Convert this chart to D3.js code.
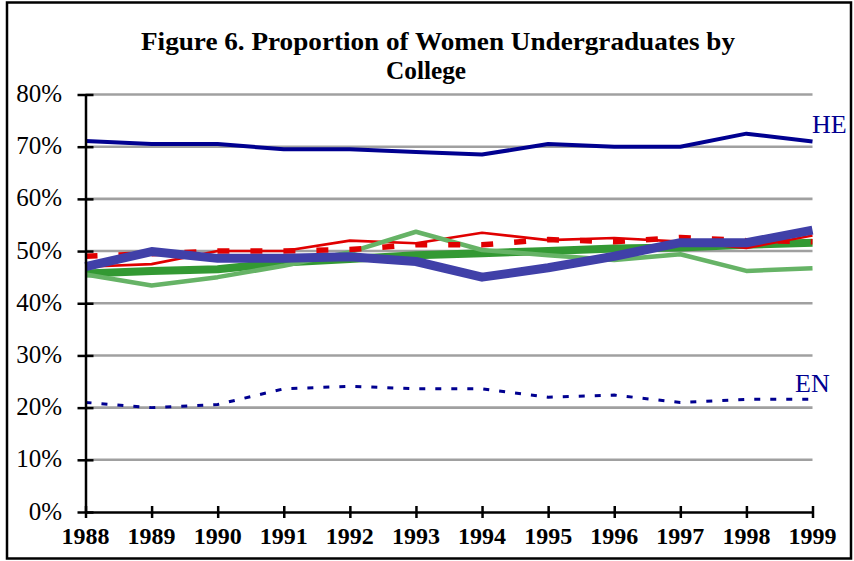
<!DOCTYPE html>
<html>
<head>
<meta charset="utf-8">
<script src="https://cdn.jsdelivr.net/npm/d3@7"></script>
<style>
  html, body { margin: 0; padding: 0; background: #fff; }
  svg { display: block; }
</style>
</head>
<body>
<div id="chart"></div>
<script>
const years = [1988, 1989, 1990, 1991, 1992, 1993, 1994, 1995, 1996, 1997, 1998, 1999];
const yTicks = [0, 0.1, 0.2, 0.3, 0.4, 0.5, 0.6, 0.7, 0.8];

const heValues       = [0.711, 0.705, 0.705, 0.695, 0.695, 0.690, 0.685, 0.705, 0.700, 0.700, 0.725, 0.710];
const enValues       = [0.210, 0.200, 0.206, 0.236, 0.241, 0.236, 0.236, 0.220, 0.224, 0.210, 0.216, 0.216];
const redThinValues  = [0.470, 0.475, 0.500, 0.500, 0.520, 0.515, 0.535, 0.521, 0.525, 0.518, 0.506, 0.530];
const redDashValues  = [0.490, 0.495, 0.500, 0.500, 0.503, 0.512, 0.512, 0.522, 0.518, 0.526, 0.520, 0.518];
const darkGreenValues  = [0.457, 0.462, 0.465, 0.478, 0.485, 0.492, 0.496, 0.500, 0.505, 0.507, 0.512, 0.516];
const lightGreenValues = [0.455, 0.434, 0.450, 0.472, 0.498, 0.537, 0.502, 0.492, 0.483, 0.494, 0.462, 0.467];
const bluePurpleValues = [0.470, 0.499, 0.486, 0.486, 0.489, 0.480, 0.450, 0.468, 0.490, 0.516, 0.516, 0.540];

const W = 854, H = 561;
const svg = d3.select("#chart").append("svg").attr("width", W).attr("height", H);

// outer frame
svg.append("rect").attr("x", 7).attr("y", 2.5).attr("width", 844).attr("height", 556)
  .attr("fill", "none").attr("stroke", "#000").attr("stroke-width", 2.5);

const x = d3.scaleLinear().domain([1988, 1999]).range([85.5, 812.5]);
const y = d3.scaleLinear().domain([0, 0.8]).range([512, 94.5]);

// title
const title = svg.append("g").attr("font-family", "'Liberation Serif', serif")
  .attr("font-weight", "bold").attr("font-size", 25).attr("fill", "#000");
title.append("text").attr("x", 438).attr("y", 50).attr("text-anchor", "middle")
  .attr("textLength", 594).attr("lengthAdjust", "spacingAndGlyphs")
  .text("Figure 6. Proportion of Women Undergraduates by");
title.append("text").attr("x", 426).attr("y", 79).attr("text-anchor", "middle")
  .attr("textLength", 80).attr("lengthAdjust", "spacingAndGlyphs")
  .text("College");

// gridlines
svg.append("g").selectAll("line").data(yTicks.filter(d => d > 0)).join("line")
  .attr("x1", x(1988)).attr("x2", x(1999))
  .attr("y1", d => y(d)).attr("y2", d => y(d))
  .attr("stroke", "#a0a0a0").attr("stroke-width", 2.6);

// series lines
const line = d3.line().x((d, i) => x(years[i])).y(d => y(d));
const series = [
  { name: "darkGreen", values: darkGreenValues, color: "#339933", width: 8, dash: null },
  { name: "redThin", values: redThinValues, color: "#e00000", width: 2.6, dash: null },
  { name: "lightGreen", values: lightGreenValues, color: "#66b366", width: 4.5, dash: null },
  { name: "redDash", values: redDashValues, color: "#e00000", width: 5.5, dash: "12,21" },
  { name: "HE", values: heValues, color: "#000090", width: 4, dash: null },
  { name: "EN", values: enValues, color: "#000090", width: 3, dash: "6,10" },
  { name: "bluePurple", values: bluePurpleValues, color: "#4040a8", width: 9, dash: null }
];
svg.append("g").selectAll("path").data(series).join("path")
  .attr("d", d => line(d.values))
  .attr("fill", "none")
  .attr("stroke", d => d.color)
  .attr("stroke-width", d => d.width)
  .attr("stroke-dasharray", d => d.dash)
  .attr("stroke-linejoin", "round");

// axes
const yAxis = d3.axisLeft(y).tickValues(yTicks).tickSize(0).tickFormat(d3.format(".0%"));
const gy = svg.append("g").attr("transform", `translate(${x(1988)},0)`).call(yAxis);
gy.select(".domain").attr("stroke", "#000").attr("stroke-width", 2.5);
gy.selectAll(".tick text").remove();
gy.selectAll(".tick").append("line").attr("x1", -8).attr("x2", 8)
  .attr("stroke", "#000").attr("stroke-width", 2.5);
svg.append("g").selectAll("text").data(yTicks).join("text")
  .attr("x", 62).attr("y", d => y(d) + 7.5)
  .attr("text-anchor", "end")
  .attr("font-family", "'Liberation Serif', serif").attr("font-size", 25)
  .attr("fill", "#000")
  .text(d => d3.format(".0%")(d));

const xAxis = d3.axisBottom(x).tickValues(years).tickSize(0).tickFormat(d3.format("d"));
const gx = svg.append("g").attr("transform", `translate(0,${y(0)})`).call(xAxis);
gx.select(".domain").attr("stroke", "#000").attr("stroke-width", 2.5);
gx.selectAll(".tick text").remove();
gx.selectAll(".tick").append("line").attr("y1", -6).attr("y2", 6)
  .attr("stroke", "#000").attr("stroke-width", 2.5);
svg.append("g").selectAll("text").data(years).join("text")
  .attr("x", d => x(d)).attr("y", 544)
  .attr("text-anchor", "middle")
  .attr("font-family", "'Liberation Serif', serif").attr("font-weight", "bold").attr("font-size", 24)
  .attr("fill", "#000")
  .text(d => d);

// series labels
svg.append("text").attr("x", 812).attr("y", 133)
  .attr("font-family", "'Liberation Serif', serif").attr("font-size", 26)
  .attr("fill", "#000090").text("HE");
svg.append("text").attr("x", 795).attr("y", 392)
  .attr("font-family", "'Liberation Serif', serif").attr("font-size", 26)
  .attr("fill", "#000090").text("EN");
</script>
</body>
</html>
